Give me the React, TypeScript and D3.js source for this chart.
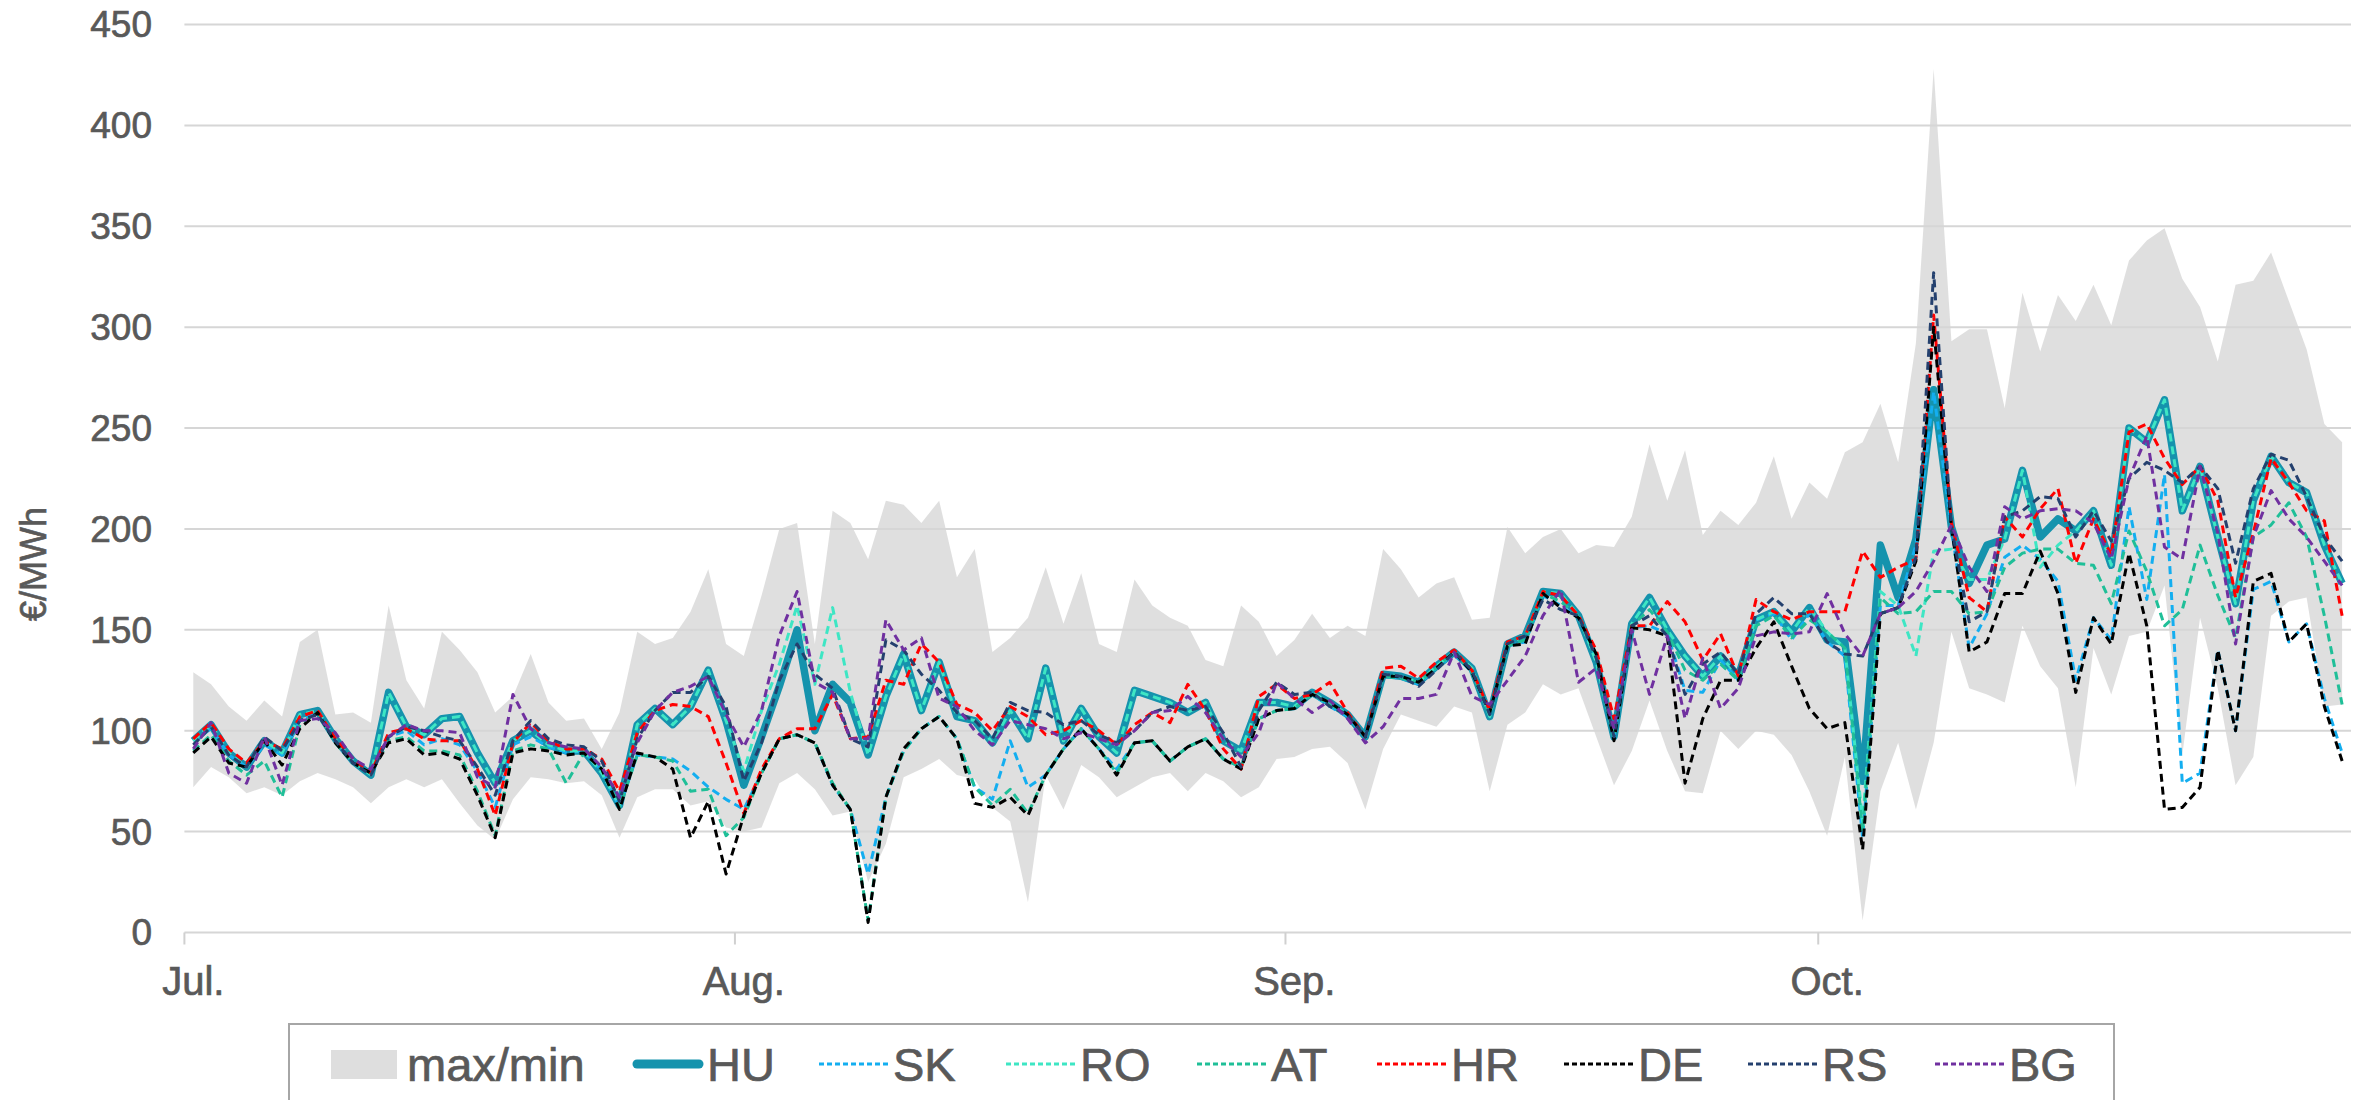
import { useEffect, useRef } from 'react';
import * as d3 from 'd3';

// Daily prices, 1 Jul - 30 Oct (122 days), €/MWh
const bandMax = [
  129, 123, 112, 105, 115, 107, 144, 150, 108, 109,
  104, 162, 125, 111, 149, 140, 129, 109, 117, 138,
  114, 105, 106, 91, 109, 149, 143, 146, 159, 180,
  143, 137, 167, 200, 203, 143, 209, 203, 185, 214,
  212, 203, 214, 176, 190, 139, 146, 156, 181, 153,
  178, 143, 139, 175, 162, 156, 152, 135, 132, 162,
  154, 137, 145, 158, 146, 152, 147, 190, 180, 166,
  173, 176, 155, 156, 201, 188, 196, 200, 188, 192,
  191, 206, 242, 214, 239, 197, 209, 202, 213, 236,
  205, 223, 215, 238, 243, 262, 233, 292, 428, 293,
  299, 299, 260, 317, 288, 316, 303, 321, 301, 333,
  343, 349, 324, 310, 283, 321, 323, 337, 313, 289,
  252, 243,
];
const bandMin = [
  72, 82, 77, 69, 72, 68, 75, 79, 76, 72,
  64, 72, 76, 72, 76, 64, 53, 46, 66, 77,
  76, 74, 75, 68, 47, 67, 71, 71, 63, 65,
  52, 50, 52, 74, 79, 71, 58, 60, 25, 44,
  77, 81, 86, 78, 76, 62, 55, 15, 78, 61,
  83, 77, 67, 72, 77, 79, 70, 79, 75, 67,
  72, 86, 87, 91, 92, 84, 61, 91, 108, 105,
  102, 112, 109, 70, 103, 109, 123, 118, 121, 97,
  73, 90, 115, 90, 70, 69, 100, 91, 100, 98,
  88, 70, 48, 87, 6, 70, 94, 61, 94, 149,
  121, 118, 114, 152, 132, 121, 72, 141, 118, 147,
  149, 172, 88, 156, 121, 73, 87, 157, 164, 166,
  112, 113,
];
const hu = [
  95, 103, 89, 82, 95, 89, 108, 110, 96, 85,
  78, 119, 102, 98, 106, 107, 89, 74, 95, 100,
  93, 90, 90, 79, 63, 103, 111, 103, 112, 130,
  105, 73, 97, 122, 150, 100, 123, 114, 88, 117,
  138, 110, 134, 107, 105, 94, 110, 96, 131, 95,
  111, 97, 89, 120, 117, 114, 109, 114, 95, 90,
  114, 114, 112, 119, 114, 108, 97, 128, 127, 124,
  132, 139, 131, 107, 143, 147, 169, 168, 157, 134,
  97, 153, 166, 150, 137, 127, 137, 127, 155, 159,
  149, 161, 145, 144, 75, 192, 166, 195, 269, 201,
  173, 192, 195, 229, 196, 205, 199, 209, 182, 250,
  243, 264, 209, 231, 196, 163, 214, 236, 223, 218,
  192, 173,
];
const sk = [
  95, 101, 88, 82, 93, 88, 105, 109, 95, 84,
  79, 97, 100, 93, 96, 93, 80, 62, 93, 97,
  92, 89, 90, 80, 62, 88, 87, 86, 80, 72,
  66, 61, 79, 96, 98, 94, 73, 61, 29, 67,
  90, 101, 107, 96, 72, 66, 95, 72, 78, 91,
  101, 91, 81, 94, 95, 85, 92, 96, 86, 82,
  106, 110, 111, 118, 112, 107, 97, 127, 126, 123,
  131, 138, 129, 108, 142, 144, 167, 162, 156, 136,
  97, 151, 152, 148, 120, 119, 135, 125, 155, 158,
  145, 158, 144, 137, 47, 162, 162, 192, 268, 200,
  141, 158, 186, 192, 185, 174, 125, 156, 145, 211,
  165, 227, 74, 79, 140, 100, 170, 174, 144, 153,
  116, 89,
];
const ro = [
  95, 103, 89, 82, 95, 89, 108, 110, 96, 85,
  78, 119, 102, 98, 106, 107, 89, 74, 95, 100,
  93, 90, 90, 79, 63, 103, 111, 103, 112, 130,
  105, 80, 110, 133, 162, 123, 161, 119, 88, 117,
  138, 110, 134, 107, 105, 94, 110, 96, 131, 95,
  111, 97, 89, 120, 117, 114, 109, 114, 95, 90,
  114, 114, 112, 119, 114, 108, 97, 128, 127, 124,
  132, 139, 131, 107, 143, 147, 169, 168, 157, 134,
  97, 153, 166, 150, 137, 127, 137, 127, 155, 159,
  149, 161, 149, 141, 55, 169, 162, 137, 189, 190,
  175, 175, 195, 229, 181, 192, 199, 209, 182, 250,
  243, 264, 209, 231, 196, 163, 214, 236, 223, 218,
  192, 173,
];
const at = [
  90, 98, 85, 78, 85, 67, 103, 109, 94, 84,
  79, 95, 97, 90, 90, 88, 70, 48, 90, 93,
  91, 74, 89, 81, 62, 88, 87, 85, 70, 71,
  48, 57, 79, 96, 98, 94, 74, 61, 6, 67,
  90, 101, 107, 96, 72, 63, 71, 59, 78, 91,
  101, 91, 79, 94, 95, 85, 92, 96, 86, 82,
  106, 110, 111, 118, 113, 108, 97, 127, 126, 124,
  131, 139, 129, 108, 142, 145, 168, 164, 157, 136,
  96, 152, 160, 149, 130, 125, 133, 125, 152, 157,
  146, 155, 149, 141, 50, 166, 158, 159, 169, 169,
  158, 159, 181, 188, 190, 190, 183, 182, 163, 199,
  179, 152, 160, 192, 167, 146, 196, 202, 213, 196,
  157, 113,
];
const hr = [
  96, 104, 91, 84, 95, 91, 107, 110, 96, 86,
  79, 99, 101, 96, 95, 95, 81, 58, 94, 104,
  95, 91, 91, 86, 70, 99, 110, 113, 112, 107,
  84, 59, 81, 96, 101, 101, 118, 96, 97, 125,
  123, 143, 134, 113, 109, 100, 112, 107, 98, 100,
  105, 100, 93, 103, 109, 104, 123, 110, 91, 81,
  117, 123, 116, 118, 124, 109, 97, 131, 132, 126,
  134, 140, 130, 110, 144, 147, 169, 167, 157, 140,
  106, 152, 152, 164, 154, 135, 148, 127, 165, 159,
  155, 159, 159, 159, 189, 176, 181, 185, 306, 203,
  166, 159, 206, 196, 210, 220, 183, 205, 187, 248,
  252, 235, 222, 231, 214, 166, 198, 235, 223, 209,
  204, 157,
];
const de = [
  89, 97, 84, 82, 95, 83, 101, 109, 94, 84,
  79, 94, 96, 88, 89, 86, 68, 47, 89, 91,
  90, 88, 89, 81, 61, 89, 87, 81, 47, 65,
  29, 58, 79, 96, 98, 94, 73, 61, 5, 67,
  91, 101, 107, 96, 64, 62, 67, 58, 78, 91,
  101, 91, 78, 94, 95, 85, 92, 96, 86, 81,
  106, 110, 111, 118, 114, 108, 97, 127, 127, 124,
  131, 139, 129, 109, 142, 143, 168, 161, 156, 138,
  95, 151, 150, 147, 74, 106, 125, 125, 141, 154,
  132, 111, 101, 104, 41, 158, 161, 184, 300, 201,
  139, 144, 168, 168, 189, 168, 119, 156, 143, 188,
  152, 61, 62, 72, 140, 100, 174, 178, 144, 153,
  112, 85,
];
const rs = [
  93, 102, 88, 82, 97, 90, 105, 108, 95, 84,
  78, 97, 102, 100, 97, 95, 82, 68, 95, 105,
  96, 93, 92, 85, 65, 96, 110, 119, 119, 127,
  112, 75, 94, 125, 143, 128, 121, 96, 92, 145,
  140, 128, 120, 109, 105, 96, 114, 110, 109, 103,
  105, 98, 94, 100, 109, 112, 110, 112, 99, 82,
  110, 124, 118, 119, 112, 108, 97, 128, 127, 122,
  130, 139, 130, 108, 143, 147, 165, 160, 157, 136,
  97, 152, 157, 147, 118, 133, 139, 128, 158, 166,
  158, 158, 144, 138, 137, 158, 161, 186, 327, 201,
  154, 159, 206, 209, 216, 215, 196, 209, 194, 225,
  233, 229, 223, 231, 220, 183, 220, 237, 234, 216,
  196, 184,
];
const bg = [
  91, 104, 79, 74, 97, 73, 105, 106, 99, 86,
  81, 97, 103, 100, 100, 99, 77, 72, 118, 101,
  94, 92, 91, 82, 67, 94, 110, 119, 122, 127,
  108, 92, 110, 147, 169, 124, 119, 96, 96, 155,
  140, 146, 116, 112, 100, 93, 105, 103, 101, 96,
  99, 96, 93, 100, 109, 110, 117, 109, 96, 87,
  99, 124, 116, 109, 115, 106, 94, 102, 116, 116,
  118, 139, 117, 113, 125, 137, 157, 170, 124, 131,
  101, 150, 118, 147, 106, 136, 111, 121, 147, 149,
  148, 149, 168, 148, 137, 158, 161, 169, 184, 202,
  181, 169, 211, 205, 209, 210, 209, 203, 185, 225,
  246, 191, 185, 231, 198, 143, 196, 219, 205, 196,
  184, 172,
];

const monthLabels = ['Jul.', 'Aug.', 'Sep.', 'Oct.'];
const monthStarts = [0, 31, 62, 92];
const yTicks = [0, 50, 100, 150, 200, 250, 300, 350, 400, 450];

const FONT = '"Liberation Sans", Arial, Helvetica, sans-serif';
const TEXT = '#595959';

const series = [
  { name: 'HU', values: hu, color: '#1593ad', width: 7.5, dash: null },
  { name: 'SK', values: sk, color: '#13aef0', width: 3, dash: '8 5' },
  { name: 'RO', values: ro, color: '#3ee6c4', width: 3, dash: '8 5' },
  { name: 'AT', values: at, color: '#1fbf98', width: 3, dash: '8 5' },
  { name: 'HR', values: hr, color: '#ff0000', width: 3, dash: '8 5' },
  { name: 'DE', values: de, color: '#000000', width: 3, dash: '8 5' },
  { name: 'RS', values: rs, color: '#24406e', width: 3, dash: '8 5' },
  { name: 'BG', values: bg, color: '#7030a0', width: 3, dash: '8 5' },
];

const App = () => {
  const svgRef = useRef<SVGSVGElement | null>(null);

  useEffect(() => {
    if (!svgRef.current) return;
    const svg = d3.select(svgRef.current);
    svg.selectAll('*').remove();

    const nDays = hu.length;
    const x = d3.scaleLinear().domain([0, nDays]).range([184.4, 2351]);
    const y = d3.scaleLinear().domain([0, 450]).range([932.5, 24.5]);
    const cx = (i: number) => x(i + 0.5);

    // text style shared by all labels (slightly heavier than plain regular)
    const label = (sel: any, size: number) =>
      sel.attr('font-family', FONT)
        .attr('font-size', size)
        .attr('fill', TEXT)
        .attr('stroke', TEXT)
        .attr('stroke-width', 0.7);

    // max/min band
    const area = d3.area<number>()
      .x((_, i) => cx(i))
      .y0((_, i) => y(bandMin[i]))
      .y1(d => y(d));
    svg.append('path')
      .datum(bandMax)
      .attr('d', area)
      .attr('fill', '#c4c4c4')
      .attr('fill-opacity', 0.55);

    // gridlines
    svg.append('g')
      .selectAll('line')
      .data(yTicks)
      .enter()
      .append('line')
      .attr('x1', x(0))
      .attr('x2', x(nDays))
      .attr('y1', d => y(d))
      .attr('y2', d => y(d))
      .attr('stroke', '#d6d6d6')
      .attr('stroke-width', 2);

    // month ticks
    svg.append('g')
      .selectAll('line')
      .data(monthStarts)
      .enter()
      .append('line')
      .attr('x1', d => x(d))
      .attr('x2', d => x(d))
      .attr('y1', y(0))
      .attr('y2', y(0) + 12)
      .attr('stroke', '#d0d0d0')
      .attr('stroke-width', 2);

    // y tick labels
    svg.append('g')
      .selectAll('text')
      .data(yTicks)
      .enter()
      .append('text')
      .attr('x', 152)
      .attr('y', d => y(d))
      .attr('dy', '0.35em')
      .attr('text-anchor', 'end')
      .call(label, 37)
      .text(d => d);

    // month labels
    svg.append('g')
      .selectAll('text')
      .data(monthStarts)
      .enter()
      .append('text')
      .attr('x', d => cx(d))
      .attr('y', 995)
      .attr('text-anchor', 'middle')
      .call(label, 40)
      .text((_, i) => monthLabels[i]);

    // y axis title
    svg.append('text')
      .attr('transform', 'translate(46,564) rotate(-90)')
      .attr('text-anchor', 'middle')
      .call(label, 36)
      .text('€/MWh');

    // series lines
    const line = d3.line<number>()
      .x((_, i) => cx(i))
      .y(d => y(d));
    series.forEach(s => {
      const p = svg.append('path')
        .datum(s.values)
        .attr('d', line)
        .attr('fill', 'none')
        .attr('stroke', s.color)
        .attr('stroke-width', s.width)
        .attr('stroke-linejoin', 'round');
      if (s.dash) p.attr('stroke-dasharray', s.dash);
    });

    // legend
    const lg = svg.append('g');
    lg.append('rect')
      .attr('x', 289)
      .attr('y', 1024)
      .attr('width', 1825)
      .attr('height', 110)
      .attr('fill', '#fff')
      .attr('stroke', '#a6a6a6')
      .attr('stroke-width', 2);
    const ly = 1064;
    lg.append('rect')
      .attr('x', 331)
      .attr('y', ly - 14)
      .attr('width', 66)
      .attr('height', 29)
      .attr('fill', '#dedede');
    lg.append('text')
      .attr('x', 407)
      .attr('y', ly + 17)
      .call(label, 47)
      .text('max/min');
    const textX = [707, 893, 1080, 1271, 1451, 1638, 1822, 2009];
    series.forEach((s, i) => {
      const tx = textX[i];
      const l = lg.append('line')
        .attr('x1', tx - 74)
        .attr('x2', tx - 4)
        .attr('y1', ly)
        .attr('y2', ly)
        .attr('stroke', s.color)
        .attr('stroke-width', s.dash ? 3 : 9);
      if (s.dash) l.attr('stroke-dasharray', '5 3');
      else l.attr('stroke-linecap', 'round').attr('x1', tx - 70).attr('x2', tx - 8);
      lg.append('text')
        .attr('x', tx)
        .attr('y', ly + 17)
        .call(label, 47)
        .text(s.name);
    });
  }, []);

  return (
    <svg
      ref={svgRef}
      width={2364}
      height={1100}
      style={{ position: 'absolute', left: 0, top: 0, background: '#fff' }}
    />
  );
};

export default App;
